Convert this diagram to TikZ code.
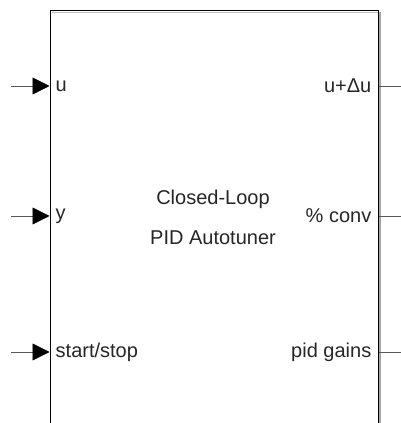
\documentclass[tikz,border=0pt]{standalone}
\usepackage{fontspec}
\setmainfont{Liberation Sans}
\usetikzlibrary{arrows.meta}
\begin{document}
\begin{tikzpicture}[x=1pt,y=1pt,
  lbl/.style={font=\fontsize{20}{24}\selectfont, text=black!85, inner sep=0pt},
  sig/.style={draw=black!65, line width=0.8pt},
  inarrow/.style={sig, -{Triangle[length=17pt,width=17pt,color=black]}}]
\useasboundingbox (0,0) rectangle (401,423);
\clip (0,0) rectangle (401,423);
% shadow
\draw[black!35, line width=2pt] (380,-30) -- (380,410.5) ;
\draw[black!25, line width=1pt] (52,410.5) -- (380,410.5);
\node[draw=black, line width=1pt, minimum width=328pt, minimum height=442pt, inner sep=0pt] (blk) at (214,191) {};
\coordinate (i1) at (11,337);
\coordinate (i2) at (11,207);
\coordinate (i3) at (11,71);
\coordinate (o1) at (401,337);
\coordinate (o2) at (401,207);
\coordinate (o3) at (401,71);
\draw[inarrow] (i1) -- (blk.west |- i1);
\draw[inarrow] (i2) -- (blk.west |- i2);
\draw[inarrow] (i3) -- (blk.west |- i3);
\draw[sig] (blk.east |- o1) -- (o1);
\draw[sig] (blk.east |- o2) -- (o2);
\draw[sig] (blk.east |- o3) -- (o3);
\node[lbl, anchor=west] (lu) at ([xshift=6pt]blk.west |- i1) {u};
\node[lbl, anchor=west] (ly) at ([xshift=6pt]blk.west |- i2) {y};
\node[lbl, anchor=west] (ls) at ([xshift=6pt]blk.west |- i3) {start/stop};
\node[lbl, anchor=east] (ru) at ([xshift=-7pt]blk.east |- o1) {u+Δu};
\node[lbl, anchor=east] (rc) at ([xshift=-7pt]blk.east |- o2) {\% conv};
\node[lbl, anchor=east] (rp) at ([xshift=-7pt]blk.east |- o3) {pid gains};
\node[lbl] (t1) at (213,224) {Closed-Loop};
\node[lbl] (t2) at (213,185) {PID Autotuner};
\end{tikzpicture}
\end{document}
